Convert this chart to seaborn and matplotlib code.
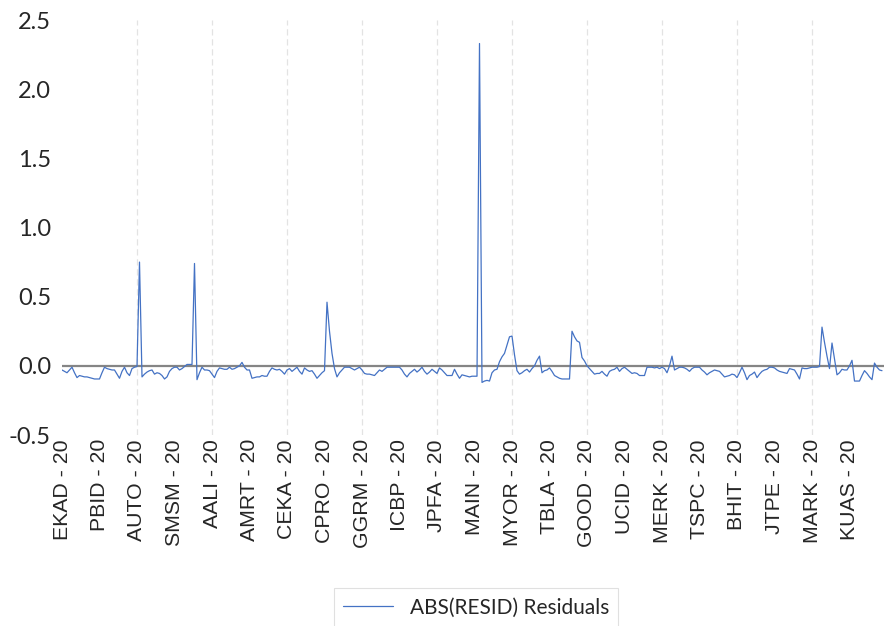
import numpy as np
import pandas as pd
import matplotlib
matplotlib.use("Agg")
import matplotlib.pyplot as plt
import seaborn as sns

# tick labels (one every 15 observations)
firms = ['EKAD', 'PBID', 'AUTO', 'SMSM', 'AALI', 'AMRT', 'CEKA', 'CPRO', 'GGRM', 'ICBP', 'JPFA',
         'MAIN', 'MYOR', 'TBLA', 'GOOD', 'UCID', 'MERK', 'TSPC', 'BHIT', 'JTPE', 'MARK', 'KUAS']
tick_labels = [f"{f} - 20" for f in firms]
tick_step = 15

# residual series
resid = [
    -0.03, -0.04, -0.05, -0.03, -0.01, -0.05, -0.085, -0.07, -0.075, -0.08, -0.08, -0.085, -0.09, -0.095, -0.095,
    -0.095, -0.05, -0.01, -0.02, -0.025, -0.03, -0.03, -0.06, -0.09, -0.04, -0.01, -0.05, -0.07, -0.02, -0.01,
    -0.005, 0.75, -0.08, -0.06, -0.045, -0.035, -0.03, -0.06, -0.05, -0.055, -0.07, -0.095, -0.08, -0.04, -0.02,
    -0.01, -0.01, -0.03, -0.02, -0.005, 0.01, 0.01, 0.01, 0.74, -0.1, -0.05, -0.01, -0.03, -0.03, -0.035,
    -0.06, -0.085, -0.04, -0.015, -0.02, -0.025, -0.025, -0.01, -0.025, -0.02, -0.01, 0.0, 0.025, -0.01, -0.03,
    -0.03, -0.09, -0.085, -0.08, -0.08, -0.07, -0.075, -0.075, -0.04, -0.015, -0.025, -0.03, -0.025, -0.04, -0.06,
    -0.03, -0.02, -0.04, -0.025, -0.01, -0.04, -0.06, -0.015, -0.03, -0.04, -0.035, -0.06, -0.09, -0.07, -0.05,
    -0.035, 0.46, 0.25, 0.09, -0.02, -0.08, -0.05, -0.03, -0.01, -0.01, -0.01, -0.02, -0.03, -0.02, -0.01,
    -0.03, -0.055, -0.06, -0.06, -0.065, -0.07, -0.05, -0.03, -0.04, -0.025, -0.01, -0.01, -0.01, -0.01, -0.01,
    -0.01, -0.03, -0.06, -0.08, -0.055, -0.04, -0.025, -0.045, -0.03, -0.01, -0.04, -0.06, -0.045, -0.025, -0.04,
    -0.055, -0.015, -0.03, -0.05, -0.07, -0.07, -0.07, -0.025, -0.06, -0.09, -0.065, -0.07, -0.075, -0.08, -0.075,
    -0.075, -0.075, 2.33, -0.12, -0.11, -0.105, -0.11, -0.05, -0.03, -0.025, 0.03, 0.065, 0.09, 0.15, 0.21,
    0.215, 0.08, -0.035, -0.06, -0.05, -0.035, -0.025, -0.045, -0.02, 0.0, 0.04, 0.07, -0.05, -0.035, -0.03,
    -0.015, -0.04, -0.07, -0.08, -0.09, -0.095, -0.095, -0.095, -0.095, 0.25, 0.21, 0.18, 0.17, 0.06, 0.035,
    0.0, -0.02, -0.04, -0.06, -0.055, -0.055, -0.04, -0.06, -0.075, -0.04, -0.03, -0.025, -0.01, -0.04, -0.02,
    -0.01, -0.025, -0.04, -0.055, -0.05, -0.055, -0.07, -0.07, -0.07, -0.01, -0.01, -0.01, -0.015, -0.01, -0.02,
    -0.01, -0.02, -0.05, 0.0, 0.07, -0.03, -0.02, -0.01, -0.01, -0.015, -0.025, -0.04, -0.02, -0.01, -0.01,
    -0.01, -0.03, -0.045, -0.065, -0.05, -0.04, -0.03, -0.035, -0.04, -0.06, -0.08, -0.075, -0.07, -0.06, -0.065,
    -0.085, -0.05, -0.01, -0.05, -0.1, -0.07, -0.06, -0.045, -0.085, -0.06, -0.04, -0.03, -0.025, -0.01, -0.01,
    -0.015, -0.03, -0.04, -0.045, -0.05, -0.055, -0.02, -0.025, -0.03, -0.06, -0.095, -0.015, -0.02, -0.02, -0.015,
    -0.01, -0.01, -0.01, -0.005, 0.28, 0.17, 0.07, -0.02, 0.165, 0.05, -0.065, -0.05, -0.025, -0.03, -0.03,
    0.0, 0.04, -0.11, -0.11, -0.11, -0.07, -0.035, -0.055, -0.08, -0.1, 0.02, -0.01, -0.03, -0.035,
]
y_ticks = [-0.5, 0.0, 0.5, 1.0, 1.5, 2.0, 2.5]

df = pd.DataFrame({'obs': np.arange(len(resid)), 'resid': resid})

sns.set_style("white")
plt.rcParams['font.family'] = ['Lato', 'DejaVu Sans']

fig = plt.figure(figsize=(8.84, 6.26), dpi=100)
ax = fig.add_axes([62 / 884, 191 / 626, 822 / 884, 415 / 626])

# vertical dashed gridlines every two labels
for k in range(2 * tick_step, len(resid), 2 * tick_step):
    ax.axvline(k, color='#e3e3e3', lw=0.9, ls=(0, (5, 3)), zorder=0)
ax.axhline(0, color='#858585', lw=1.6, zorder=1)

sns.lineplot(data=df, x='obs', y='resid', ax=ax, color='#4472C4', lw=0.9,
             label='ABS(RESID) Residuals', legend=False, zorder=2)

ax.set_xlim(0, len(resid) - 0.2)
ax.set_ylim(-0.5, 2.5)
ax.set_yticks(y_ticks)
ax.set_yticklabels([f"{v:.1f}" for v in y_ticks], fontsize=17)
ax.set_xticks(np.arange(len(firms)) * tick_step)
ax.set_xticklabels(tick_labels, rotation=90, fontsize=15.3, family=['Liberation Sans', 'DejaVu Sans'])
ax.tick_params(axis='both', length=0)
ax.tick_params(axis='x', pad=3)
ax.tick_params(axis='y', pad=8)
ax.set_xlabel('')
ax.set_ylabel('')
for s in ax.spines.values():
    s.set_visible(False)

handles, labels = ax.get_legend_handles_labels()
leg = fig.legend(handles, labels, loc='upper center', bbox_to_anchor=(0.5385, 38 / 626),
                 frameon=True, fancybox=False, edgecolor='#d9d9d9', fontsize=15,
                 handlelength=2.4, borderpad=0.45, borderaxespad=0)
leg.get_frame().set_linewidth(0.8)

fig.savefig('out.png', dpi=100)
